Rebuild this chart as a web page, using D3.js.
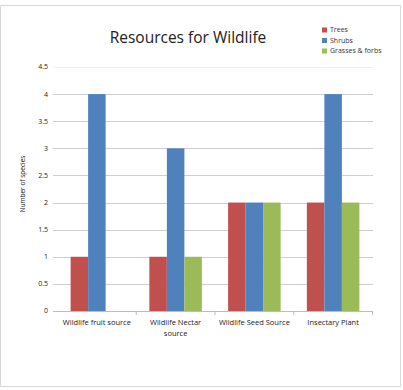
<!DOCTYPE html>
<html><head><meta charset="utf-8">
<script src="https://cdn.jsdelivr.net/npm/d3@7"></script>
<style>body{margin:0;background:#fff}svg{display:block}</style>
</head><body>
<script>
const categories = ["Wildlife fruit source", "Wildlife Nectar source", "Wildlife Seed Source", "Insectary Plant"];
const seriesNames = ["Trees", "Shrubs", "Grasses & forbs"];
const trees = [1, 1, 2, 2];
const shrubs = [4, 3, 2, 4];
const grasses = [0, 1, 2, 2];
const yTicks = [0, 0.5, 1, 1.5, 2, 2.5, 3, 3.5, 4, 4.5];
const colors = ["#C0504D", "#4F81BD", "#9BBB59"];
const seriesValues = [trees, shrubs, grasses];

const W = 403, H = 390;
const svg = d3.select("body").append("svg").attr("width", W).attr("height", H);
const font = "'Open Sans', 'Liberation Sans', sans-serif";

svg.append("rect").attr("x", 0.5).attr("y", 5.5).attr("width", 400).attr("height", 381)
  .attr("fill", "#fff").attr("stroke", "#d9d9d9");

const y = d3.scaleLinear().domain([0, 4.5]).range([311, 67]);
const x0 = d3.scaleBand().domain(categories).range([57.5, 372.5]).paddingInner(0).paddingOuter(0);
const groupW = x0.bandwidth() * 0.667;
const x1 = d3.scaleBand().domain(seriesNames).range([0, groupW]);

// gridlines
svg.append("g").selectAll("line").data(yTicks.slice(1)).join("line")
  .attr("x1", 53).attr("x2", 373).attr("y1", d => Math.round(y(d)) + 0.5).attr("y2", d => Math.round(y(d)) + 0.5)
  .attr("stroke", (d, i, n) => i === n.length - 1 ? "#f0f0f0" : "#cfcfcf").attr("stroke-width", 1);

// y axis labels
svg.append("g").selectAll("text").data(yTicks).join("text")
  .attr("x", 48).attr("y", d => y(d)).attr("dy", "0.35em").attr("text-anchor", "end")
  .attr("font-family", font).attr("font-size", 7).attr("fill", "#222")
  .text(d => d);

// bars
const groups = svg.append("g").selectAll("g").data(categories).join("g")
  .attr("transform", c => `translate(${x0(c) + (x0.bandwidth() - groupW) / 2},0)`);
groups.selectAll("rect").data((c, i) => seriesNames.map((s, j) => ({s, v: seriesValues[j][i], j})))
  .join("rect")
  .attr("x", d => x1(d.s)).attr("width", x1.bandwidth())
  .attr("y", d => y(d.v)).attr("height", d => y(0) - y(d.v))
  .attr("fill", d => colors[d.j]);

// x axis
svg.append("line").attr("x1", 53).attr("x2", 373).attr("y1", 311.5).attr("y2", 311.5).attr("stroke", "#bdbdbd");
svg.append("g").selectAll("line").data(categories.slice(1).concat(["end"])).join("line")
  .attr("x1", (d, i) => x0.range()[0] + (i + 1) * x0.step()).attr("x2", (d, i) => x0.range()[0] + (i + 1) * x0.step())
  .attr("y1", 311).attr("y2", 315).attr("stroke", "#bdbdbd");

// category labels with wrap
const labels = svg.append("g").selectAll("text").data(categories).join("text")
  .attr("x", c => x0(c) + x0.bandwidth() / 2).attr("y", 325).attr("text-anchor", "middle")
  .attr("font-family", font).attr("font-size", 7.5).attr("fill", "#222");
labels.each(function(c) {
  const t = d3.select(this);
  const words = c.split(" ");
  let line = [], lines = [];
  const tmp = t.append("tspan");
  words.forEach(w => {
    const test = line.concat([w]).join(" ");
    tmp.text(test);
    if (tmp.node().getComputedTextLength() > 74 && line.length) { lines.push(line.join(" ")); line = [w]; }
    else line.push(w);
  });
  lines.push(line.join(" "));
  tmp.remove();
  lines.forEach((l, i) => t.append("tspan").attr("x", x0(c) + x0.bandwidth() / 2).attr("dy", i ? 11 : 0).text(l));
});

// title
svg.append("text").attr("x", 188).attr("y", 43).attr("text-anchor", "middle")
  .attr("font-family", font).attr("font-size", 15.5).attr("fill", "#222").text("Resources for Wildlife");

// y axis title
svg.append("text").attr("transform", "translate(25,184) rotate(-90)").attr("text-anchor", "middle")
  .attr("font-family", font).attr("font-size", 6.5).attr("fill", "#222").text("Number of species");

// legend
const lg = svg.append("g").selectAll("g").data(seriesNames).join("g")
  .attr("transform", (d, i) => `translate(322,${30 + i * 10.5})`);
lg.append("rect").attr("x", 0).attr("y", -2.5).attr("width", 5).attr("height", 5).attr("fill", (d, i) => colors[i]);
lg.append("text").attr("x", 8).attr("y", 0).attr("dy", "0.35em")
  .attr("font-family", font).attr("font-size", 7).attr("fill", "#333").text(d => d);
</script>
</body></html>
